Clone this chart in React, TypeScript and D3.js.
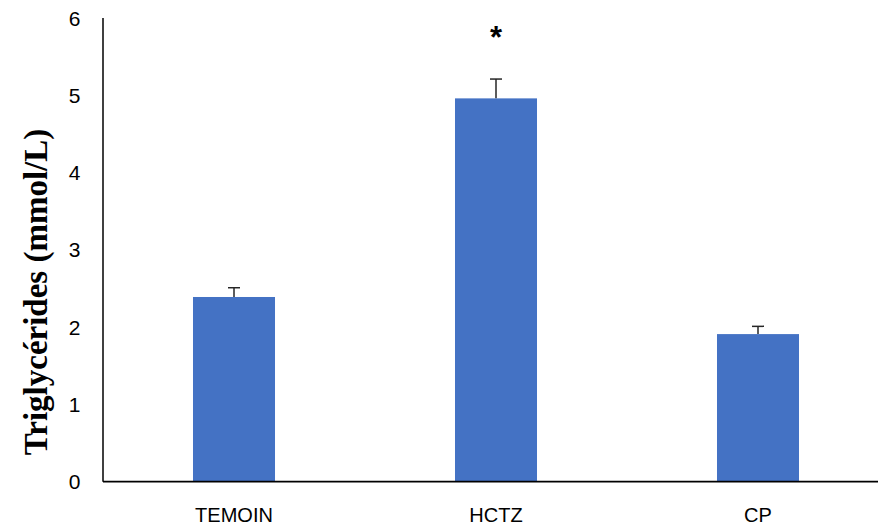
import React from "react";
import * as d3 from "d3";

const categories = ["TEMOIN", "HCTZ", "CP"];
const values = [2.39, 4.96, 1.91];
const errors = [0.12, 0.25, 0.1];
const significance = ["", "*", ""];
const yTicks = [0, 1, 2, 3, 4, 5, 6];
const yTitle = "Triglycérides (mmol/L)";

export default function App() {
  const W = 878, H = 526;
  const x0 = 103, yBase = 481.7, yTop = 18;
  const step = 262;
  const x = d3.scaleBand<string>().domain(categories).range([x0, x0 + step * categories.length]).paddingInner(0.687).paddingOuter(0.3435);
  const y = d3.scaleLinear().domain([0, 6]).range([yBase, yTop]);
  const bw = x.bandwidth();
  return (
    <svg width={W} height={H} style={{ position: "absolute", left: 0, top: 0 }}>
      <rect width={W} height={H} fill="#fff" />
      {categories.map((c, i) => {
        const bx = x(c)!;
        const cx = bx + bw / 2;
        return (
          <g key={c}>
            <rect x={bx} y={y(values[i])} width={bw} height={yBase - y(values[i])} fill="#4472C4" />
            <line x1={cx} x2={cx} y1={y(values[i])} y2={y(values[i] + errors[i])} stroke="#262626" strokeWidth={1.5} />
            <line x1={cx - 6} x2={cx + 6} y1={y(values[i] + errors[i])} y2={y(values[i] + errors[i])} stroke="#262626" strokeWidth={1.5} />
            {significance[i] && (
              <text x={cx} y={48} textAnchor="middle" fontFamily="Liberation Sans" fontWeight="bold" fontSize={31} fill="#000">{significance[i]}</text>
            )}
            <text x={cx} y={521.5} textAnchor="middle" fontFamily="Liberation Sans" fontSize={20} fill="#000">{c}</text>
          </g>
        );
      })}
      <line x1={x0} x2={x0} y1={yTop} y2={yBase} stroke="#000" strokeWidth={1.5} />
      <line x1={x0} x2={W} y1={yBase} y2={yBase} stroke="#000" strokeWidth={1.8} />
      {yTicks.map((t) => (
        <text key={t} x={80.5} y={y(t)} dy="0.36em" textAnchor="end" fontFamily="Liberation Sans" fontSize={21} fill="#000">{t}</text>
      ))}
      <text transform={`translate(35,292) rotate(-90)`} textAnchor="middle" dy="0.35em" fontFamily="Liberation Serif" fontWeight="bold" fontSize={33} fill="#000">{yTitle}</text>
    </svg>
  );
}
